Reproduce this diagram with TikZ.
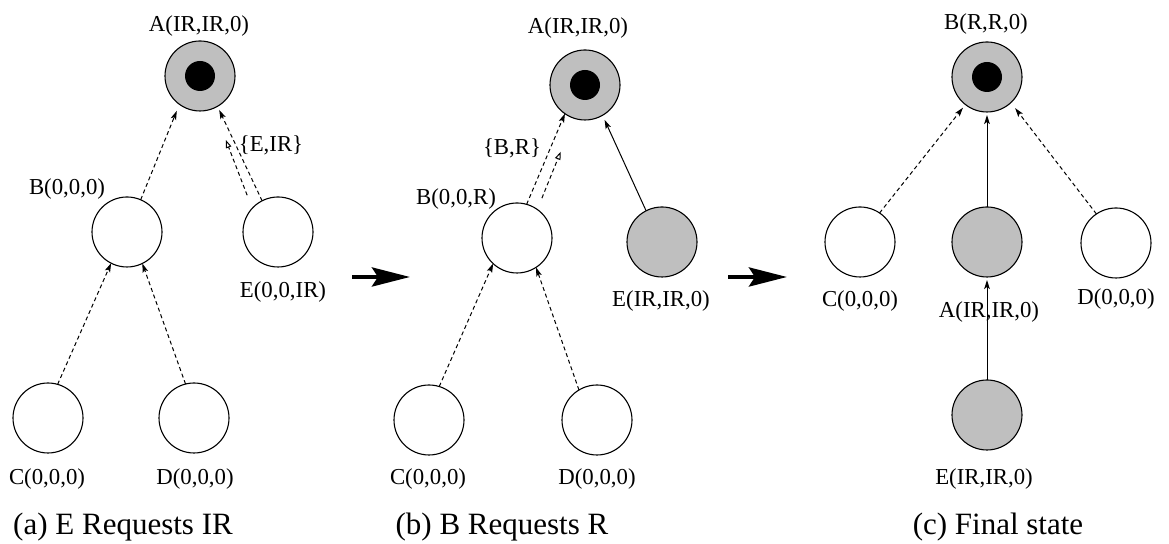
\documentclass[tikz,border=0pt]{standalone}
\usepackage{fontspec}
\setmainfont{Liberation Serif}
\usetikzlibrary{arrows.meta,calc}
\definecolor{fillgray}{RGB}{191,191,191}
\tikzset{
  nd/.style={circle, draw, line width=0.55pt, minimum size=35pt, inner sep=0pt, outer sep=0pt, fill=white},
  gnd/.style={nd, fill=fillgray},
  dotnd/.style={circle, fill=black, minimum size=15pt, inner sep=0pt},
  lbl/.style={font=\fontsize{11.4}{13}\selectfont, inner sep=0pt, anchor=base},
  captxt/.style={font=\fontsize{15.5}{18}\selectfont, inner sep=0pt, anchor=base},
  darr/.style={line width=0.5pt, dash pattern=on 2pt off 1.5pt, -{Stealth[length=4.5pt,width=2.8pt,inset=1pt]}},
  oarr/.style={line width=0.5pt, dash pattern=on 2pt off 1.5pt, -{Triangle[open,length=4pt,width=2.8pt]}},
  sarr/.style={line width=0.5pt, -{Stealth[length=4.5pt,width=2.8pt,inset=1pt]}},
  bigarr/.style={line width=2.2pt, -{Stealth[length=19pt,width=9.5pt,inset=3pt]}}
}
\begin{document}
\begin{tikzpicture}[x=0.5pt,y=0.5pt]
\useasboundingbox (0,0) rectangle (1169,544);
% ---------- panel (a)
\node[gnd] (A1) at (200,468) {};
\node[dotnd] (A1d) at (A1) {};
\node[nd] (B1) at (127,312) {};
\node[nd] (E1) at (278,312) {};
\node[nd] (C1) at (48,126) {};
\node[nd] (D1) at (194,126) {};
\node[lbl] (lA1) at (199,512) {A(IR,IR,0)};
\node[lbl] (lB1) at (67,349) {B(0,0,0)};
\node[lbl] (lE1) at (283,246) {E(0,0,IR)};
\node[lbl] (lC1) at (47,59) {C(0,0,0)};
\node[lbl] (lD1) at (195,59) {D(0,0,0)};
\node[lbl] (m1) at (271,392) {\{E,IR\}};
\node[captxt] (cap1) at (123,9) {(a) E Requests IR};
\draw[darr] (C1.74) -- (B1.243);
\draw[darr] (D1.104) -- (B1.296);
\draw[darr, shorten >=3.5pt] (B1.67) -- (A1.234);
\draw[darr, shorten >=2pt] (E1.117) -- (A1.-60);
\draw[oarr] ($(E1)+(130:48)$) -- ($(A1)+(-68:69)$);
% ---------- panel (b)
\node[gnd] (A2) at (585,459) {};
\node[dotnd] (A2d) at (A2) {};
\node[nd] (B2) at (517,306) {};
\node[gnd] (E2) at (662,302) {};
\node[nd] (C2) at (429,124) {};
\node[nd] (D2) at (597,124) {};
\node[lbl] (lA2) at (578,510) {A(IR,IR,0)};
\node[lbl] (lB2) at (456,339) {B(0,0,R)};
\node[lbl] (lE2) at (661,237) {E(IR,IR,0)};
\node[lbl] (lC2) at (428,59) {C(0,0,0)};
\node[lbl] (lD2) at (597,59) {D(0,0,0)};
\node[lbl] (m2) at (512,389) {\{B,R\}};
\node[captxt] (cap2) at (502,9) {(b) B Requests R};
\draw[darr] (C2.73) -- (B2.227);
\draw[darr] (D2.121) -- (B2.-57);
\draw[darr] (B2.74) -- (A2.235);
\draw[oarr] ($(B2)+(58:47)$) -- ($(A2)+(250:71)$);
\draw[sarr, shorten >=2.5pt] (E2.117) -- (A2.-60);
% ---------- panel (c)
\node[gnd] (B3) at (987,467) {};
\node[dotnd] (B3d) at (B3) {};
\node[nd] (C3) at (860,302) {};
\node[gnd] (A3) at (987,302) {};
\node[nd] (D3) at (1116,301) {};
\node[gnd] (E3) at (987,129) {};
\node[lbl] (lB3) at (986,514) {B(R,R,0)};
\node[lbl] (lC3) at (860,237) {C(0,0,0)};
\node[lbl] (lA3) at (989,226) {A(IR,IR,0)};
\node[lbl] (lD3) at (1116,239) {D(0,0,0)};
\node[lbl] (lE3) at (984,59) {E(IR,IR,0)};
\node[captxt] (cap3) at (998,9) {(c) Final state};
\draw[darr, shorten >=2pt] (C3.56) -- (B3.232);
\draw[darr, shorten >=3.5pt] (D3.124) -- (B3.-47);
\draw[sarr, shorten >=1.5pt] (A3.90) -- (B3.270);
\draw[sarr, shorten >=1.5pt] (E3.90) -- (A3.270);
% ---------- transition arrows
\coordinate (g1s) at (352,267);
\coordinate (g1e) at (410,267);
\coordinate (g2s) at (728,267);
\coordinate (g2e) at (787,267);
\draw[bigarr] (g1s) -- (g1e);
\draw[bigarr] (g2s) -- (g2e);
\end{tikzpicture}
\end{document}
